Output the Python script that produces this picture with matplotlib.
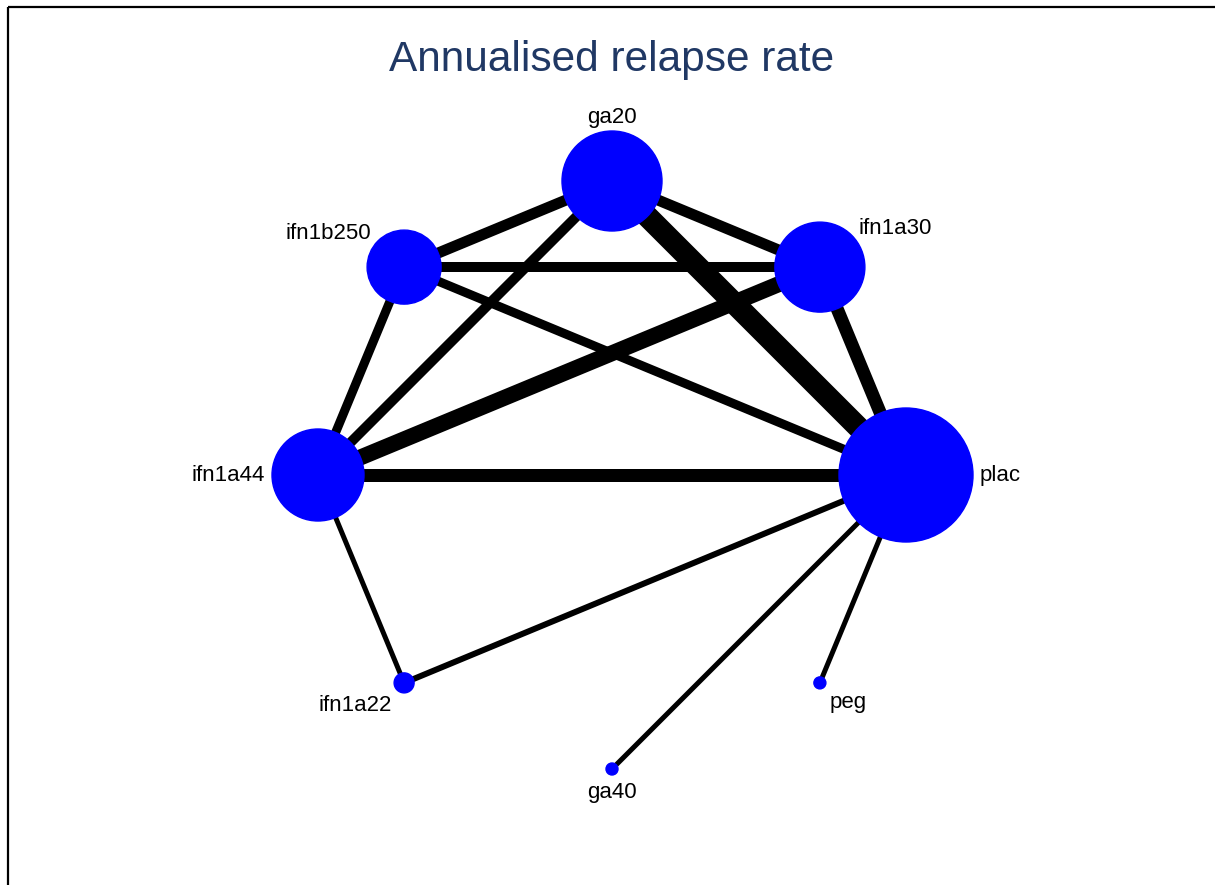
import numpy as np
import matplotlib.pyplot as plt
from matplotlib.patches import Circle, Rectangle

plt.rcParams['font.family'] = ['Liberation Sans', 'DejaVu Sans']

# treatments, clockwise from the top
nodes = ["ga20", "ifn1a30", "plac", "peg", "ga40", "ifn1a22", "ifn1a44", "ifn1b250"]
# node size (radius, px)
node_size = [50, 45, 67, 6, 6, 10, 46, 37]

# comparisons and edge thickness (px)
edges = [("ga20", "ifn1b250", 11), ("ga20", "ifn1a30", 11), ("ga20", "plac", 22),
         ("ga20", "ifn1a44", 10), ("ifn1b250", "ifn1a30", 10), ("ifn1b250", "ifn1a44", 9),
         ("ifn1b250", "plac", 9), ("ifn1a30", "ifn1a44", 16), ("ifn1a30", "plac", 13),
         ("ifn1a44", "plac", 13), ("ifn1a44", "ifn1a22", 5), ("ifn1a22", "plac", 6),
         ("plac", "ga40", 5), ("plac", "peg", 5)]

title = "Annualised relapse rate"

W, H = 1215, 885
fig = plt.figure(figsize=(W / 100, H / 100), dpi=100)
ax = fig.add_axes([0, 0, 1, 1])
ax.set_xlim(0, W)
ax.set_ylim(H, 0)
ax.axis("off")

# circular layout
cx, cy, R = 612, 475, 294
ang = np.pi / 2 - np.arange(len(nodes)) * 2 * np.pi / len(nodes)
pos = {n: (cx + R * np.cos(a), cy - R * np.sin(a)) for n, a in zip(nodes, ang)}

px2pt = 72 / 100
for a, b, w in edges:
    (x1, y1), (x2, y2) = pos[a], pos[b]
    ax.plot([x1, x2], [y1, y2], color="black", lw=w * px2pt,
            solid_capstyle="butt", zorder=1)

for n, r, a in zip(nodes, node_size, ang):
    x, y = pos[n]
    ax.add_patch(Circle((x, y), r, color="#0000ff", zorder=2))
    dx, dy = np.cos(a), np.sin(a)
    d = r + 7
    ha = "center" if abs(dx) < 0.3 else ("left" if dx > 0 else "right")
    if abs(dy) < 0.3:
        va = "center"
    elif dy > 0:
        va = "bottom" if abs(dx) < 0.3 else "center"
        d = r + 3 if abs(dx) < 0.3 else r + 10
    else:
        va = "top"
    ax.text(x + d * dx, y - d * dy, n, ha=ha, va=va, fontsize=16, zorder=3)

ax.text(612, 60, title, ha="center", va="center", fontsize=30.5, color="#203864")

ax.add_patch(Rectangle((8, 7), 1400, 1000, fill=False, lw=1.6, ec="black"))

fig.savefig("out.png", dpi=100)
